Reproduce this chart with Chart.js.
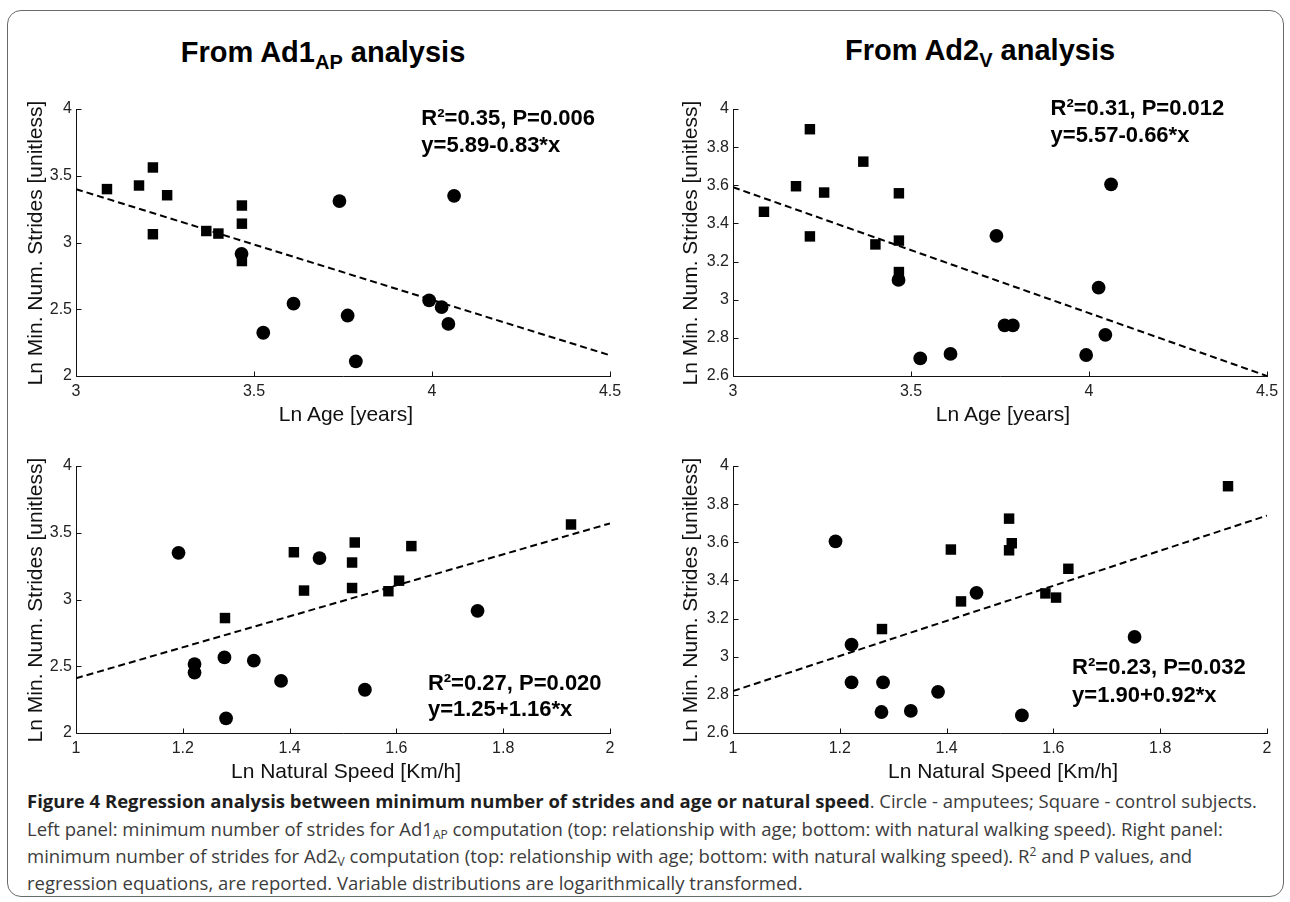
<!DOCTYPE html>
<html><head><meta charset="utf-8">
<script src="https://cdn.jsdelivr.net/npm/chart.js@4.4.1/dist/chart.umd.min.js"></script>
<style>
html,body{margin:0;padding:0;background:#fff;}
body{width:1290px;height:902px;position:relative;overflow:hidden;font-family:"Liberation Sans",Arial,sans-serif;}
.frame{position:absolute;left:7px;top:10px;width:1277px;height:887px;border:1.5px solid #6a6a6a;border-radius:14px;box-sizing:border-box;}
canvas{position:absolute;}
.title{position:absolute;font-weight:bold;font-size:29px;color:#000;white-space:nowrap;transform:translate(-50%,-50%);}
.title sub{font-size:20px;vertical-align:baseline;position:relative;top:7px;}
.xt{position:absolute;font-size:21px;color:#111;white-space:nowrap;transform:translate(-50%,-50%);}
.yt{position:absolute;font-size:21px;color:#111;white-space:nowrap;transform:translate(-50%,-50%) rotate(-90deg);}
.cap{position:absolute;left:27px;font-family:"Open Sans",sans-serif;font-size:18.5px;color:#3c3c3c;white-space:nowrap;transform:translateY(-50%);}
.cap b{color:#1e1e1e;}
.cap sub{font-size:12px;vertical-align:baseline;position:relative;top:3px;}
.cap sup{font-size:12px;vertical-align:baseline;position:relative;top:-7px;}
</style>
</head><body>
<div class="frame"></div>
<canvas id="c1" width="614" height="327" style="left:16px;top:89px"></canvas>
<canvas id="c2" width="614" height="327" style="left:673px;top:89px"></canvas>
<canvas id="c3" width="614" height="327" style="left:16px;top:446px"></canvas>
<canvas id="c4" width="614" height="327" style="left:673px;top:446px"></canvas>

<div class="title" style="left:323px;top:52px">From Ad1<sub>AP</sub> analysis</div>
<div class="title" style="left:980px;top:50px">From Ad2<sub>V</sub> analysis</div>

<div class="yt" style="left:35px;top:243px">Ln Min. Num. Strides [unitless]</div>
<div class="yt" style="left:690px;top:243px">Ln Min. Num. Strides [unitless]</div>
<div class="yt" style="left:35px;top:600px">Ln Min. Num. Strides [unitless]</div>
<div class="yt" style="left:690px;top:600px">Ln Min. Num. Strides [unitless]</div>

<div class="xt" style="left:346px;top:414px">Ln Age [years]</div>
<div class="xt" style="left:1003px;top:414px">Ln Age [years]</div>
<div class="xt" style="left:346px;top:771px">Ln Natural Speed [Km/h]</div>
<div class="xt" style="left:1003px;top:771px">Ln Natural Speed [Km/h]</div>

<div class="cap" style="top:800px"><b>Figure 4 Regression analysis between minimum number of strides and age or natural speed</b>. Circle - amputees; Square - control subjects.</div>
<div class="cap" style="top:828px">Left panel: minimum number of strides for Ad1<sub>AP</sub> computation (top: relationship with age; bottom: with natural walking speed). Right panel:</div>
<div class="cap" style="top:855px">minimum number of strides for Ad2<sub>V</sub> computation (top: relationship with age; bottom: with natural walking speed). R<sup>2</sup> and P values, and</div>
<div class="cap" style="top:882px">regression equations, are reported. Variable distributions are logarithmically transformed.</div>

<script>
// ---- data ----
const controlAge   = [3.087, 3.177, 3.216, 3.256, 3.216, 3.366, 3.400, 3.466, 3.466, 3.466];
const controlSpeed = [1.628, 1.522, 1.927, 1.408, 1.585, 1.517, 1.427, 1.517, 1.605, 1.279];
const controlAd1   = [3.400, 3.427, 3.562, 3.354, 3.062, 3.086, 3.067, 3.277, 3.141, 2.861];
const controlAd2   = [3.461, 3.595, 3.894, 3.562, 3.332, 3.724, 3.290, 3.558, 3.310, 3.145];

const amputeeAge   = [3.465, 3.526, 3.611, 3.740, 3.763, 3.786, 3.992, 4.027, 4.046, 4.062];
const amputeeSpeed = [1.752, 1.541, 1.333, 1.456, 1.222, 1.281, 1.278, 1.222, 1.384, 1.192];
const amputeeAd1   = [2.915, 2.324, 2.542, 3.310, 2.453, 2.110, 2.566, 2.516, 2.390, 3.350];
const amputeeAd2   = [3.104, 2.692, 2.716, 3.335, 2.865, 2.865, 2.710, 3.063, 2.816, 3.605];

// regression line end points
const ageLineX   = [3, 4.5];
const speedLineX = [1, 2];
const ad1AgeLineY   = [3.400, 2.155];
const ad2AgeLineY   = [3.590, 2.600];
const ad1SpeedLineY = [2.410, 3.570];
const ad2SpeedLineY = [2.820, 3.740];

// tick labels
const ageTicks   = [3, 3.5, 4, 4.5];
const speedTicks = [1, 1.2, 1.4, 1.6, 1.8, 2];
const ad1Ticks   = [2, 2.5, 3, 3.5, 4];
const ad2Ticks   = [2.6, 2.8, 3, 3.2, 3.4, 3.6, 3.8, 4];

// annotations
const statText = ['R\u00b2=0.35, P=0.006', 'R\u00b2=0.31, P=0.012', 'R\u00b2=0.27, P=0.020', 'R\u00b2=0.23, P=0.032'];
const eqText   = ['y=5.89-0.83*x', 'y=5.57-0.66*x', 'y=1.25+1.16*x', 'y=1.90+0.92*x'];
const noteX    = [3.97, 3.892, 1.659, 1.635];
const noteY1   = [3.925, 4.0, 2.37, 2.94];
const noteY2   = [3.72, 3.858, 2.17, 2.796];

const zip = (xs, ys) => xs.map((v, i) => ({x: v, y: ys[i]}));

const matlabAxes = {
  id: 'matlabAxes',
  beforeDatasetsDraw(chart) {
    const {ctx, chartArea: a, scales: {x, y}} = chart;
    ctx.save();
    ctx.strokeStyle = '#111';
    ctx.lineWidth = 1;
    const L = Math.round(a.left) + 0.5, B = Math.round(a.bottom) + 0.5;
    ctx.beginPath();
    ctx.moveTo(L, Math.round(a.top)); ctx.lineTo(L, B); ctx.lineTo(Math.round(a.right) + 1, B);
    x.ticks.forEach(t => { const p = Math.round(x.getPixelForValue(t.value)) + 0.5; ctx.moveTo(p, B); ctx.lineTo(p, B - 5); });
    y.ticks.forEach(t => { const p = Math.round(y.getPixelForValue(t.value)) + 0.5; ctx.moveTo(L, p); ctx.lineTo(L + 5, p); });
    ctx.stroke();
    ctx.restore();
  },
  afterDatasetsDraw(chart, args, o) {
    const {ctx, scales: {x, y}} = chart;
    ctx.save();
    ctx.fillStyle = '#000';
    ctx.font = 'bold 22px "Liberation Sans", Arial, sans-serif';
    ctx.textBaseline = 'middle';
    ctx.textAlign = 'left';
    const px = x.getPixelForValue(o.nx);
    ctx.fillText(o.t1, px, y.getPixelForValue(o.ny1));
    ctx.fillText(o.t2, px, y.getPixelForValue(o.ny2));
    ctx.restore();
  }
};

function makePanel(id, xr, yr, xt, yt, ctrlX, ctrlY, ampX, ampY, lineX, lineY, k) {
  const tickFont = {family: '"Liberation Sans", Arial, sans-serif', size: 16};
  new Chart(document.getElementById(id), {
    type: 'scatter',
    data: {
      datasets: [
        {data: zip(ctrlX, ctrlY), pointStyle: 'rect', pointRadius: 7.4, backgroundColor: '#000', borderColor: '#000', borderWidth: 0, order: 1},
        {data: zip(ampX, ampY), pointStyle: 'circle', pointRadius: 6.9, backgroundColor: '#000', borderColor: '#000', borderWidth: 0, order: 0},
        {type: 'line', data: zip(lineX, lineY), borderColor: '#000', borderWidth: 2, borderDash: [7, 4], pointRadius: 0, fill: false, order: 3}
      ]
    },
    options: {
      responsive: false, animation: false, events: [],
      layout: {padding: {top: 20, right: 20, left: 0, bottom: 0}},
      plugins: {legend: {display: false}, tooltip: {enabled: false},
        matlabAxes: {nx: noteX[k], ny1: noteY1[k], ny2: noteY2[k], t1: statText[k], t2: eqText[k]}},
      scales: {
        x: {type: 'linear', min: xr[0], max: xr[1],
            afterBuildTicks: s => { s.ticks = xt.map(v => ({value: v})); },
            afterFit: s => { s.height = 40; },
            grid: {display: false, drawTicks: false}, border: {display: false},
            ticks: {font: tickFont, color: '#222', padding: 6, maxRotation: 0, autoSkip: false, callback: v => String(+(+v).toFixed(2))}},
        y: {type: 'linear', min: yr[0], max: yr[1],
            afterBuildTicks: s => { s.ticks = yt.map(v => ({value: v})); },
            afterFit: s => { s.width = 60; },
            grid: {display: false, drawTicks: false}, border: {display: false},
            ticks: {font: tickFont, color: '#222', padding: 4, autoSkip: false, callback: v => String(+(+v).toFixed(2))}}
      }
    },
    plugins: [matlabAxes]
  });
}

makePanel('c1', [3, 4.5], [2, 4],   ageTicks,   ad1Ticks, controlAge,   controlAd1, amputeeAge,   amputeeAd1, ageLineX,   ad1AgeLineY,   0);
makePanel('c2', [3, 4.5], [2.6, 4], ageTicks,   ad2Ticks, controlAge,   controlAd2, amputeeAge,   amputeeAd2, ageLineX,   ad2AgeLineY,   1);
makePanel('c3', [1, 2],   [2, 4],   speedTicks, ad1Ticks, controlSpeed, controlAd1, amputeeSpeed, amputeeAd1, speedLineX, ad1SpeedLineY, 2);
makePanel('c4', [1, 2],   [2.6, 4], speedTicks, ad2Ticks, controlSpeed, controlAd2, amputeeSpeed, amputeeAd2, speedLineX, ad2SpeedLineY, 3);
</script>
</body></html>
